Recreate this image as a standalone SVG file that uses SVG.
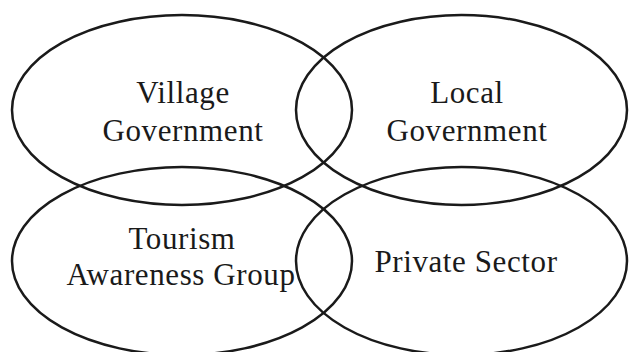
<svg xmlns="http://www.w3.org/2000/svg" width="629" height="352" viewBox="0 0 629 352">
<style>
.e{fill:none;stroke:#1a1a1a;stroke-width:2.5}
.t{font-family:"Liberation Serif","DejaVu Serif",serif;font-size:31px;letter-spacing:0.6px;fill:#1a1a1a;text-anchor:middle}
</style>
<rect width="629" height="352" fill="#fff"/>
<g id="village"><ellipse class="e" cx="182" cy="110" rx="170" ry="95"/>
<text class="t" x="183" y="103">Village</text><text class="t" x="183" y="141">Government</text></g>
<g id="local"><ellipse class="e" cx="461.5" cy="110" rx="165.5" ry="95"/>
<text class="t" x="467" y="103">Local</text><text class="t" x="467" y="141">Government</text></g>
<g id="tourism"><ellipse class="e" cx="182" cy="261" rx="170" ry="94"/>
<text class="t" x="182" y="249">Tourism</text><text class="t" x="181" y="285">Awareness Group</text></g>
<g id="private"><ellipse class="e" cx="461.5" cy="261" rx="165.5" ry="94"/>
<text class="t" x="466" y="272">Private Sector</text></g>
</svg>
